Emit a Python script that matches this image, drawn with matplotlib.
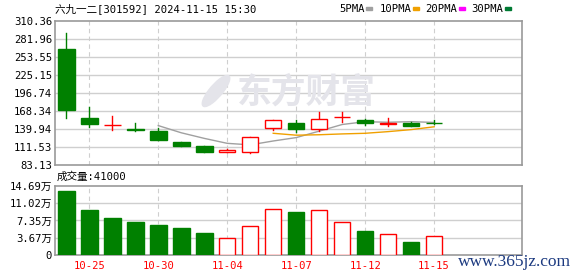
import matplotlib
matplotlib.use('Agg')
import matplotlib.pyplot as plt
from matplotlib.patches import Rectangle, Ellipse
import pandas as pd

# daily k-line data (price in yuan, volume in 万 shares)
dates = ['10-24', '10-25', '10-28', '10-29', '10-30', '10-31', '11-01', '11-04', '11-05',
         '11-06', '11-07', '11-08', '11-11', '11-12', '11-13', '11-14', '11-15']
opens = [266.2, 157.3, 145.5, 140.0, 136.8, 119.4, 113.1, 104.2, 104.2,
         141.0, 149.4, 140.0, 158.6, 154.1, 148.6, 149.4, 149.2]
highs = [291.4, 174.7, 160.5, 149.4, 142.0, 119.4, 113.1, 109.1, 126.8,
         153.7, 154.1, 166.8, 166.3, 155.0, 156.8, 151.4, 153.7]
lows = [157.8, 143.6, 138.8, 137.3, 123.1, 113.6, 104.2, 104.2, 102.5,
        138.8, 135.2, 136.8, 151.5, 145.9, 145.2, 145.2, 147.4]
closes = [170.4, 148.3, 146.0, 138.9, 123.1, 113.6, 104.2, 106.8, 126.8,
          153.7, 140.4, 155.2, 159.1, 148.9, 149.3, 145.2, 148.9]
volumes = [13.63, 9.61, 7.91, 7.13, 6.43, 5.79, 4.73, 3.60, 6.14,
           9.75, 9.18, 9.53, 7.06, 5.16, 4.45, 2.83, 4.10]

price_ticks = ['83.13', '111.53', '139.94', '168.34', '196.74', '225.15', '253.55', '281.96', '310.36']
vol_ticks = [0, 3.67, 7.35, 11.02, 14.69]
vol_tick_labels = ['0', '3.67万', '7.35万', '11.02万', '14.69万']
label_days = ['10-25', '10-30', '11-04', '11-07', '11-12', '11-15']

ma_labels = ['5PMA', '10PMA', '20PMA', '30PMA']
ma_windows = [5, 10, 20, 30]
ma_colors = ['#a0a0a0', '#f0a000', '#ff00ff', '#007a33']

title = '六九一二[301592] 2024-11-15 15:30'
vol_title = '成交量:41000'

RED = '#ff0000'
GREEN = '#008000'
GRID = '#cfcfcf'
BORDER = '#999999'
WM = '#e4e4ea'
W, H = 578, 276
FONT = ['DejaVu Sans Mono', 'Noto Sans CJK SC']
FS = 7.6

fig = plt.figure(figsize=(W / 100, H / 100), dpi=100)
fig.patch.set_facecolor('white')


def px_axes(left, top, right, bottom):
    return fig.add_axes([left / W, 1 - bottom / H, (right - left) / W, (bottom - top) / H])


ax = px_axes(55, 21, 522, 165)
axv = px_axes(55, 186, 522, 255)

n = len(dates)
xs = list(range(n))
label_pos = [dates.index(d) for d in label_days]
bw = 0.72

for a in (ax, axv):
    a.set_xlim(-0.49, 19.82)
    for s in a.spines.values():
        s.set_color(BORDER)
        s.set_linewidth(1.2)
    a.tick_params(length=0, pad=2, labelsize=FS, labelcolor='#000000')
    for p in label_pos:
        a.axvline(p, color=GRID, lw=0.8, ls=(0, (4, 3)), zorder=1)

# price panel
pt = [float(t) for t in price_ticks]
ax.set_ylim(pt[0], pt[-1])
ax.set_yticks(pt)
ax.set_yticklabels(price_ticks, family=FONT)
ax.set_xticks([])
for v in pt[1:-1]:
    ax.axhline(v, color=GRID, lw=1, zorder=1)

# watermark
ax.text(237 / W, 1 - 92 / H, '东方财富', transform=fig.transFigure, fontsize=25, fontweight='bold',
        family='Noto Sans CJK SC', color=WM, va='center', ha='left', zorder=2)
ax.add_patch(Ellipse((216 / W, 1 - 91 / H), 15 / W, 33 / H, angle=-20,
                     transform=fig.transFigure, color=WM, zorder=2))

# moving averages
cs = pd.Series(closes)
for win, col in zip(ma_windows, ma_colors):
    ma = cs.rolling(win).mean()
    ax.plot(xs, ma, color=col, lw=1, zorder=3)

# candles
for i in xs:
    o, h, l, c = opens[i], highs[i], lows[i], closes[i]
    col = RED if c >= o else GREEN
    ax.plot([i, i], [l, h], color=col, lw=1, zorder=4)
    bot, top = min(o, c), max(o, c)
    ht = max(top - bot, 0.3)
    face = 'white' if c >= o else GREEN
    ax.add_patch(Rectangle((i - bw / 2, bot), bw, ht, facecolor=face,
                           edgecolor=col, lw=1, zorder=5))

# volume panel
axv.set_ylim(0, vol_ticks[-1])
axv.set_yticks(vol_ticks)
axv.set_yticklabels(vol_tick_labels, family=FONT)
for v in vol_ticks[1:-1]:
    axv.axhline(v, color=GRID, lw=1, zorder=1)
axv.set_xticks(label_pos)
axv.set_xticklabels(label_days, family=FONT, color=RED)
axv.tick_params(axis='x', pad=4)
for i in xs:
    up = closes[i] >= (closes[i - 1] if i > 0 else opens[i])
    if up:
        axv.add_patch(Rectangle((i - bw / 2, 0), bw, volumes[i], facecolor='white',
                                edgecolor=RED, lw=1, zorder=5))
    else:
        axv.add_patch(Rectangle((i - bw / 2, 0), bw, volumes[i], facecolor=GREEN,
                                edgecolor=GREEN, lw=1, zorder=5))

# header texts
fig.text(55 / W, 1 - 8.7 / H, title, family=FONT, fontsize=FS, va='center', ha='left')
legend_x = [339, 380, 425.5, 471.5]
for lab, col, lx in zip(ma_labels, ma_colors, legend_x):
    fig.text(lx / W, 1 - 8.7 / H, lab, family=FONT, fontsize=FS, va='center', ha='left')
    mx = lx + len(lab) * 6.3 + 1.5
    fig.patches.append(Rectangle((mx / W, 1 - 10.3 / H), 6 / W, 3 / H,
                                 transform=fig.transFigure, color=col))
fig.text(57 / W, 1 - 176.5 / H, vol_title, family=FONT, fontsize=FS, va='center', ha='left')
fig.text(571 / W, 1 - 262 / H, 'www.365jz.com', family='Liberation Serif', fontsize=12.5,
         color='#1c3a80', va='center', ha='right')

fig.savefig('out.png', dpi=100)
